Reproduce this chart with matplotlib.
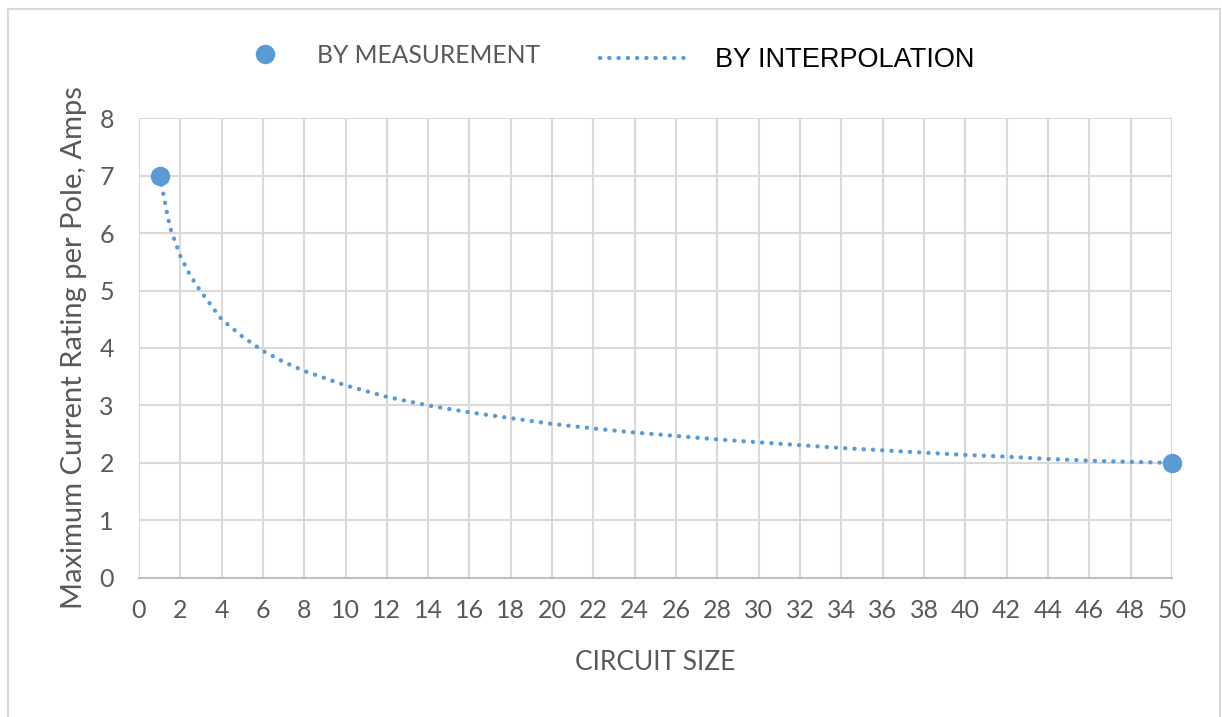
import matplotlib.pyplot as plt
from matplotlib.lines import Line2D
from matplotlib.patches import Rectangle

# measured end points
meas_size = [1, 50]
meas_amps = [7, 2]

# interpolated curve
interp_size = [1, 1.5, 2, 2.5, 3, 4, 5, 6, 7, 8, 10, 12, 14, 16, 18, 20, 22, 24,
               26, 28, 30, 32, 34, 36, 38, 40, 42, 44, 46, 48, 50]
interp_amps = [7.0, 6.1, 5.6, 5.25, 4.98, 4.5, 4.2, 3.95, 3.76, 3.6, 3.35, 3.15,
               3.0, 2.88, 2.78, 2.68, 2.6, 2.53, 2.47, 2.41, 2.36, 2.31, 2.26,
               2.22, 2.18, 2.14, 2.11, 2.07, 2.04, 2.02, 2.0]

xticks = list(range(0, 51, 2))
yticks = list(range(0, 9))

blue = '#5b9bd5'
txt = '#595959'
grid = '#d9d9d9'
dots = (0, (0.05, 2.1))

plt.rcParams['font.family'] = ['Lato', 'DejaVu Sans']

fig = plt.figure(figsize=(12.22, 7.17), dpi=100)
ax = fig.add_axes([0.1137, 0.1939, 0.8453, 0.6415])

ax.plot(interp_size, interp_amps, linestyle=dots, color=blue,
        lw=3.1, dash_capstyle='round', zorder=3)
ax.plot(meas_size, meas_amps, 'o', color=blue, ms=13, zorder=4, clip_on=False)

ax.set_xlim(0, 50)
ax.set_ylim(0, 8)
ax.set_xticks(xticks)
ax.set_yticks(yticks)
ax.grid(True, color=grid, lw=1.5)
ax.set_axisbelow(True)
for s in ['top', 'right', 'left']:
    ax.spines[s].set_visible(False)
ax.spines['bottom'].set_color('#bfbfbf')
ax.spines['bottom'].set_linewidth(1.5)
ax.tick_params(length=0, labelsize=18, labelcolor=txt)
ax.tick_params(axis='x', pad=15)
ax.tick_params(axis='y', pad=18)
ax.set_xlabel('CIRCUIT SIZE', fontsize=19, color=txt, labelpad=20)
ax.set_ylabel('Maximum Current Rating per Pole, Amps', fontsize=21,
              color=txt, labelpad=9)

h1 = Line2D([], [], marker='o', color=blue, ls='none', ms=13)
h2 = Line2D([], [], color=blue, lw=3.1, ls=dots, dash_capstyle='round')
leg1 = fig.legend([h1], ['BY MEASUREMENT'], loc='center left',
                  bbox_to_anchor=(0.1968, 0.923), frameon=False,
                  fontsize=17.7, handlelength=2.0, handletextpad=1.12,
                  borderpad=0, borderaxespad=0)
leg1.get_texts()[0].set_color(txt)
leg2 = fig.legend([h2], ['BY INTERPOLATION'], loc='center left',
                  bbox_to_anchor=(0.491, 0.916), frameon=False,
                  prop={'family': 'Liberation Sans', 'size': 19.5},
                  handlelength=3.33, handletextpad=0.93,
                  borderpad=0, borderaxespad=0)
leg2.get_texts()[0].set_color('black')

fig.patches.append(Rectangle((8 / 1222, -0.1), 1212 / 1222, 1.1 - 9 / 717,
                             transform=fig.transFigure, fill=False,
                             edgecolor='#d9d9d9', lw=1.5))

fig.savefig('out.png', dpi=100, facecolor='white')
